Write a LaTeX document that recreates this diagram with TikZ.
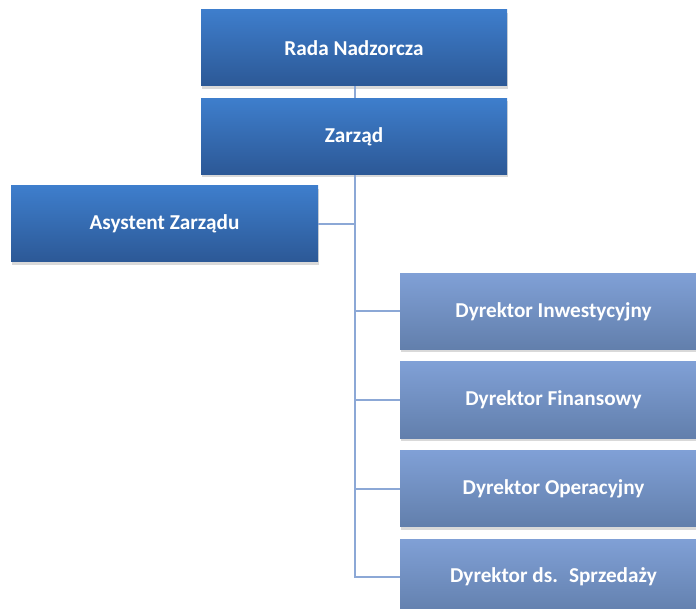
\documentclass[tikz,border=0pt]{standalone}
\usepackage{fontspec}
\setmainfont{Carlito}
\usetikzlibrary{positioning,shadows}
\definecolor{darktop}{RGB}{62,126,204}
\definecolor{darkbot}{RGB}{44,88,150}
\definecolor{lighttop}{RGB}{128,160,214}
\definecolor{lightbot}{RGB}{98,127,172}
\definecolor{linkcol}{RGB}{140,168,214}
\begin{document}
\begin{tikzpicture}[x=1pt,y=-1pt,
  font=\fontsize{21.2}{25}\selectfont\bfseries,
  box/.style={minimum width=306pt,minimum height=76pt,inner sep=0pt,
    text=white,top color=darktop,bottom color=darkbot,
    drop shadow={shadow xshift=1pt,shadow yshift=-3pt,opacity=0.3}},
  lightbox/.style={box,minimum width=307pt,top color=lighttop,bottom color=lightbot},
  link/.style={draw=linkcol,line width=2pt}]
\useasboundingbox (0,0) rectangle (696,609);
\node[box] (rada) at (354,48) {Rada Nadzorcza};
\node[box] (zarzad) at (354,136.5) {Zarząd};
\node[box,minimum width=307pt] (asystent) at (164.5,224) {Asystent Zarządu};
\node[lightbox] (inwest) at (553.5,311.5) {Dyrektor Inwestycyjny};
\node[lightbox] (finans) at (553.5,400) {Dyrektor Finansowy};
\node[lightbox] (operac) at (553.5,488.5) {Dyrektor Operacyjny};
\node[lightbox] (sprzed) at (553.5,577) {Dyrektor ds.~ Sprzedaży};
% connectors
\coordinate (trunk) at ([xshift=1pt]zarzad.south |- sprzed.west);
\path[link] ([xshift=1pt]rada.south) -- ([xshift=1pt]zarzad.north);
\path[link] ([xshift=1pt]zarzad.south) -- (trunk) -- (sprzed.west);
\path[link] (asystent.east) -- (asystent.east -| trunk);
\foreach \n in {inwest,finans,operac}
  \path[link] (\n.west -| trunk) -- (\n.west);
\end{tikzpicture}
\end{document}
